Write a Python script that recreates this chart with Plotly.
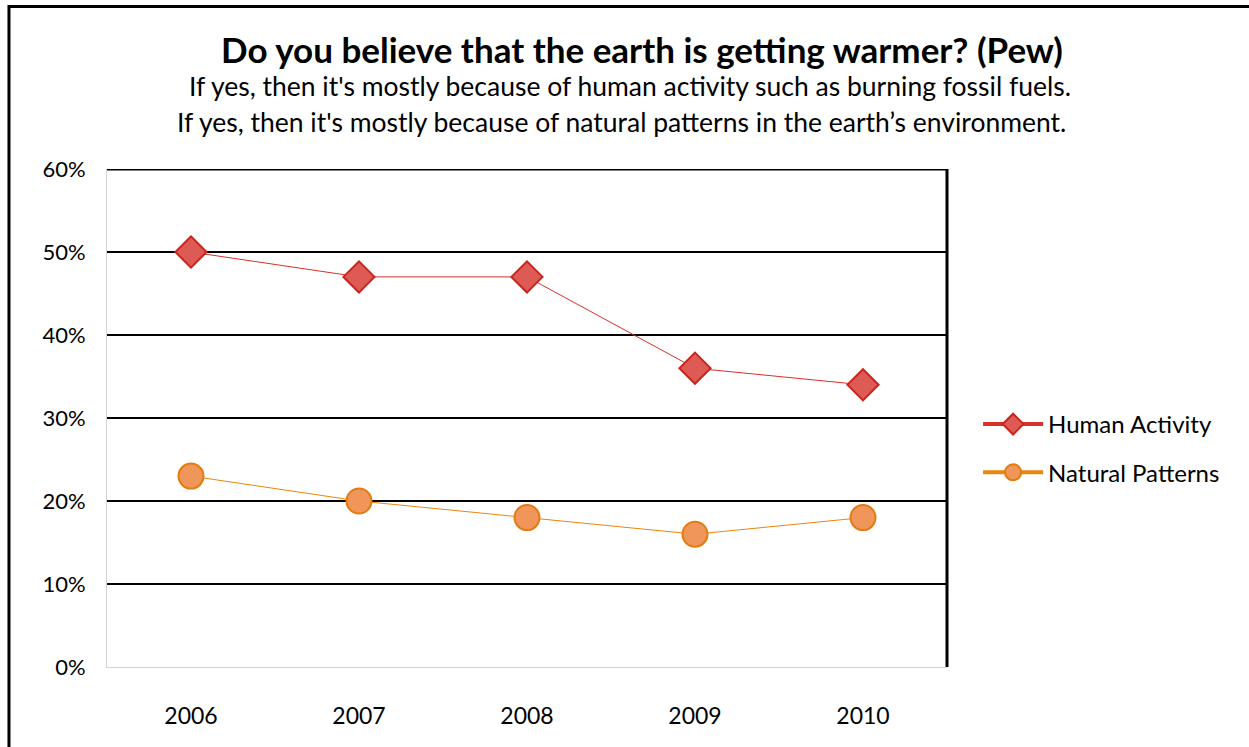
import plotly.graph_objects as go

years = ["2006", "2007", "2008", "2009", "2010"]
human_activity = [50, 47, 47, 36, 34]
natural_patterns = [23, 20, 18, 16, 18]
y_ticks = [0, 10, 20, 30, 40, 50, 60]
y_tick_labels = ["0%", "10%", "20%", "30%", "40%", "50%", "60%"]

title = "Do you believe that the earth is getting warmer? (Pew)"
subtitle_1 = "If yes, then it's mostly because of human activity such as burning fossil fuels."
subtitle_2 = "If yes, then it's mostly because of natural patterns in the earth\u2019s environment."

FONT = "Lato"

series = [
    ("Human Activity", human_activity, "#d9302a",
     dict(symbol="diamond", size=24, color="#de5a55", line=dict(color="#c8261c", width=2))),
    ("Natural Patterns", natural_patterns, "#e8860f",
     dict(symbol="circle", size=25, color="#f0965a", line=dict(color="#e07c10", width=2))),
]

fig = go.Figure()
for name, values, color, marker in series:
    fig.add_trace(go.Scatter(
        x=years, y=values, name=name, mode="lines+markers",
        legendgroup=name, showlegend=False,
        line=dict(color=color, width=1), marker=marker,
    ))
    # legend entry drawn with the thicker line used in the original key
    fig.add_trace(go.Scatter(
        x=[None], y=[None], name=name, mode="lines+markers",
        legendgroup=name, showlegend=True,
        line=dict(color=color, width=4), marker=marker,
    ))

# outer frame, top gridline and right edge of the plot
fig.add_shape(type="rect", xref="paper", yref="paper",
              x0=-0.1167, x1=1.45, y0=-0.3, y1=1.3263,
              line=dict(color="black", width=3), layer="below")
fig.add_shape(type="line", xref="paper", yref="y",
              x0=0, x1=1, y0=y_ticks[-1], y1=y_ticks[-1],
              line=dict(color="black", width=3))
fig.add_shape(type="line", xref="paper", yref="paper",
              x0=1, x1=1, y0=0, y1=1, line=dict(color="black", width=3))

fig.add_annotation(text="<b>" + title + "</b>", xref="paper", yref="paper",
                   x=0.637, y=1.241, yanchor="middle", showarrow=False,
                   font=dict(size=35, color="black", family=FONT))
fig.add_annotation(text=subtitle_1, xref="paper", yref="paper",
                   x=0.623, y=1.1667, yanchor="middle", showarrow=False,
                   font=dict(size=26.5, color="black", family=FONT))
fig.add_annotation(text=subtitle_2, xref="paper", yref="paper",
                   x=0.613, y=1.0944, yanchor="middle", showarrow=False,
                   font=dict(size=26.5, color="black", family=FONT))

fig.update_layout(
    width=1249, height=747,
    margin=dict(l=107, r=302, t=169, b=80),
    plot_bgcolor="white", paper_bgcolor="white",
    font=dict(family=FONT, size=22, color="black"),
    showlegend=True,
    legend=dict(x=1.037, y=0.4388, xanchor="left", yanchor="middle",
                font=dict(size=24), tracegroupgap=14, itemwidth=60),
    xaxis=dict(type="category", range=[-0.5, 4.5], showgrid=False,
               showline=True, linecolor="#d4d4d4", linewidth=1,
               ticks="", ticklabelstandoff=28, tickfont=dict(size=23)),
    yaxis=dict(range=[0, 60], tickvals=y_ticks, ticktext=y_tick_labels,
               showgrid=True, gridcolor="black", gridwidth=2,
               zeroline=True, zerolinecolor="#d4d4d4", zerolinewidth=1,
               showline=True, linecolor="#d4d4d4", linewidth=1,
               ticks="", ticklabelstandoff=16),
)

fig.write_html("out.html", config={"displayModeBar": False},
               post_script="document.body.style.margin='0';")
